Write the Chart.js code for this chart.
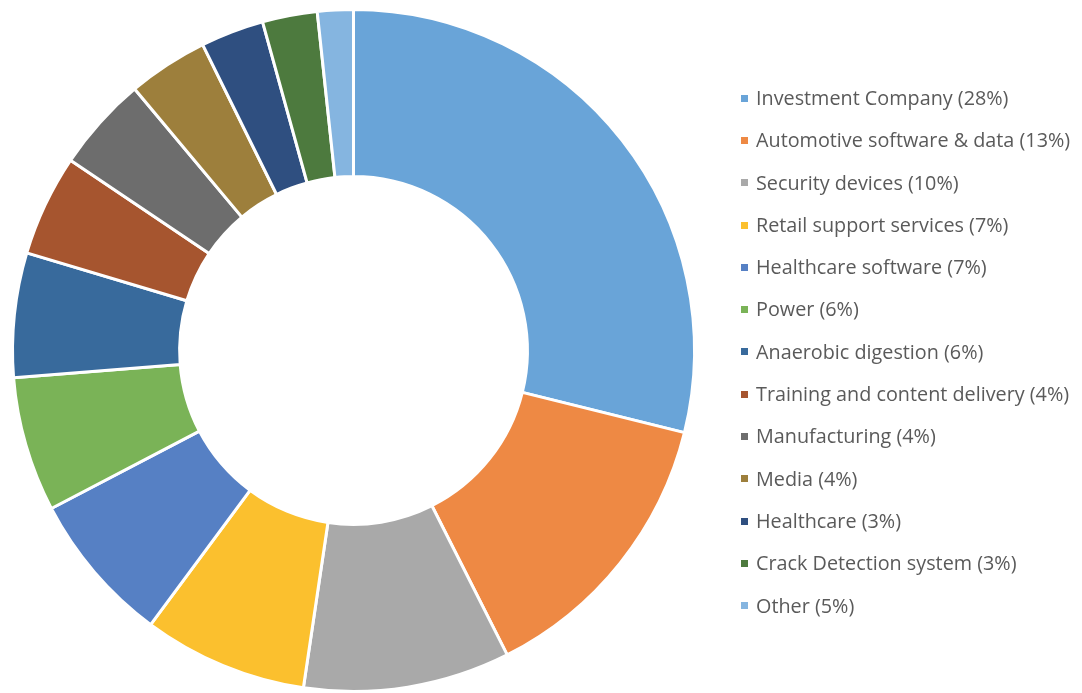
<!DOCTYPE html>
<html>
<head>
<meta charset="utf-8">
<script src="https://cdn.jsdelivr.net/npm/chart.js@4"></script>
<style>
  html, body { margin: 0; padding: 0; background: #fff; }
  #wrap { position: relative; width: 1082px; height: 693px; overflow: hidden; }
  #legend { position: absolute; left: 738px; top: 86px; margin: 0; padding: 0; list-style: none;
    font-family: "Open Sans", sans-serif; font-size: 19.8px; color: #5a5a5a; }
  #legend li { height: 42.3px; line-height: 24px; white-space: nowrap; }
  #legend span { display: inline-block; width: 7px; height: 7px; margin: 0 8px 3px 3px; vertical-align: middle; }
</style>
</head>
<body>
<div id="wrap">
  <canvas id="chart" width="1082" height="693"></canvas>
  <ul id="legend"></ul>
</div>
<script>
const categories = [
  'Investment Company (28%)',
  'Automotive software & data (13%)',
  'Security devices (10%)',
  'Retail support services (7%)',
  'Healthcare software (7%)',
  'Power (6%)',
  'Anaerobic digestion (6%)',
  'Training and content delivery (4%)',
  'Manufacturing (4%)',
  'Media (4%)',
  'Healthcare (3%)',
  'Crack Detection system (3%)',
  'Other (5%)'
];
// slice sizes as drawn in the picture (%)
const shares = [28.9, 13.7, 9.8, 7.8, 7.2, 6.4, 5.9, 4.8, 4.5, 3.8, 3.0, 2.6, 1.7];
const colors = [
  '#69a4d8', '#ee8944', '#a9a9a9', '#fbc02e', '#5680c4', '#7ab357', '#386a9c',
  '#a6552f', '#6d6d6d', '#9d7f3c', '#2f4f80', '#4d7a3e', '#85b5e0'
];

const ctx = document.getElementById('chart').getContext('2d');
new Chart(ctx, {
  type: 'doughnut',
  data: {
    labels: categories,
    datasets: [{
      data: shares,
      backgroundColor: colors,
      borderColor: '#ffffff',
      borderWidth: 3
    }]
  },
  options: {
    responsive: false,
    animation: false,
    cutout: '51%',
    layout: { padding: { left: 11, top: 8, bottom: 0, right: 386 } },
    plugins: {
      legend: { display: false },
      tooltip: { enabled: false }
    }
  }
});

// legend on the right, built from the same arrays
const legend = document.getElementById('legend');
categories.forEach((name, i) => {
  const li = document.createElement('li');
  const box = document.createElement('span');
  box.style.background = colors[i];
  li.appendChild(box);
  li.appendChild(document.createTextNode(name));
  legend.appendChild(li);
});
</script>
</body>
</html>
